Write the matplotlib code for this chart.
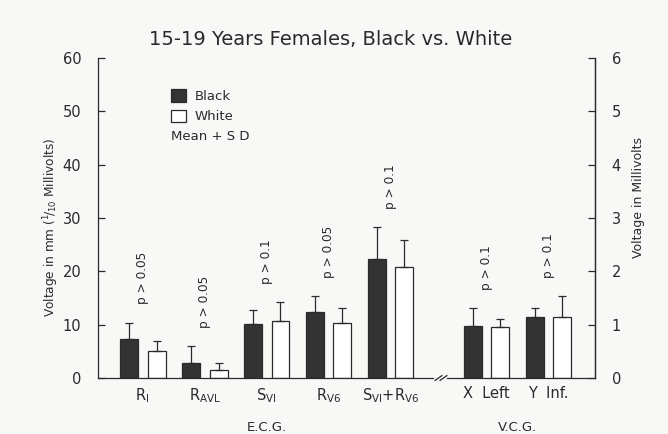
import numpy as np
import matplotlib.pyplot as plt
from matplotlib.patches import Patch
from matplotlib.transforms import blended_transform_factory

# --- data (mm, 1/10 mV) ---
labels = [r'R$_{\rm I}$', r'R$_{\rm AVL}$', r'S$_{\rm VI}$', r'R$_{\rm V6}$',
          r'S$_{\rm VI}$+R$_{\rm V6}$', 'X  Left', 'Y  Inf.']
black_mean = [7.3, 2.8, 10.1, 12.4, 22.4, 9.8, 11.5]
black_sd = [3.1, 3.2, 2.7, 3.0, 5.9, 3.3, 1.7]
white_mean = [5.1, 1.5, 10.7, 10.3, 20.9, 9.5, 11.5]
white_sd = [1.9, 1.3, 3.6, 2.8, 4.9, 1.6, 3.8]
p_text = ['p > 0.05', 'p > 0.05', 'p > 0.1', 'p > 0.05', 'p > 0.1', 'p > 0.1', 'p > 0.1']

BG = '#f8f8f6'
INK = '#2a2a2a'

# group positions (gap between E.C.G. and V.C.G. blocks)
pos = np.array([0, 1, 2, 3, 4, 5.55, 6.55])
w = 0.29
off = 0.225

fig = plt.figure(figsize=(6.68, 4.34), dpi=100, facecolor=BG)
ax = fig.add_axes([0.1467, 0.129, 0.744, 0.737], facecolor=BG)

err_kw = dict(ecolor=INK, elinewidth=0.9, capsize=3, capthick=0.9)
ax.bar(pos - off, black_mean, w, color='#333333', edgecolor=INK, linewidth=0.9,
       yerr=[np.zeros(len(pos)), black_sd], error_kw=err_kw, zorder=2)
ax.bar(pos + off, white_mean, w, color='white', edgecolor=INK, linewidth=0.9,
       yerr=[np.zeros(len(pos)), white_sd], error_kw=err_kw, zorder=2)

# p-value notes above each pair
tops = np.maximum(np.array(black_mean) + black_sd, np.array(white_mean) + white_sd)
for x, t, s in zip(pos, tops, p_text):
    ax.text(x, t + 3.4, s, rotation=90, ha='center', va='bottom', fontsize=8.7, color=INK)

ax.set_xlim(-0.72, 7.3)
ax.set_ylim(0, 60)
ax.set_yticks(range(0, 61, 10))
ax.set_xticks(pos)
ax.set_xticklabels(labels, fontsize=10.5, color=INK)
ax.tick_params(axis='x', length=0, pad=6)
ax.tick_params(axis='y', direction='in', length=5, width=0.9, pad=12, labelsize=10.5,
               colors=INK)

for side in ['top', 'bottom']:
    ax.spines[side].set_visible(False)
for side in ['left', 'right']:
    ax.spines[side].set_color(INK)
    ax.spines[side].set_linewidth(0.9)

# broken bottom axis
ax.plot([-0.72, 4.69], [0, 0], color=INK, lw=0.9, clip_on=False, zorder=3)
ax.plot([4.91, 7.3], [0, 0], color=INK, lw=0.9, clip_on=False, zorder=3)
for dx in (4.72, 4.8):
    ax.plot([dx, dx + 0.11], [-0.45, 0.45], color=INK, lw=0.9, clip_on=False, zorder=3)

ax2 = ax.twinx()
ax2.set_ylim(0, 6)
ax2.set_yticks(range(0, 7))
ax2.tick_params(axis='y', direction='in', length=5, width=0.9, pad=12, labelsize=10.5,
                colors=INK)
for side in ['top', 'bottom', 'left']:
    ax2.spines[side].set_visible(False)
ax2.spines['right'].set_color(INK)
ax2.spines['right'].set_linewidth(0.9)

ax.set_ylabel(r'Voltage in mm ($^{1}\!/_{10}$ Millivolts)', fontsize=8.7, color=INK)
ax.yaxis.set_label_coords(-0.075, 0.47)
ax2.set_ylabel('Voltage in Millivolts', fontsize=9, color=INK)
ax2.yaxis.set_label_coords(1.075, 0.565)

# legend
handles = [Patch(facecolor='#333333', edgecolor=INK, linewidth=0.9, label='Black'),
           Patch(facecolor='white', edgecolor=INK, linewidth=0.9, label='White')]
ax.legend(handles=handles, loc='upper left', bbox_to_anchor=(0.123, 0.94), frameon=False,
          fontsize=9.5, handlelength=1.1, handleheight=1.1, handletextpad=0.7,
          labelspacing=0.5, labelcolor=INK)
ax.text(0.146, 0.756, 'Mean + S D', transform=ax.transAxes, fontsize=9.5,
        color=INK, va='center')

# block labels
tr = blended_transform_factory(ax.transData, ax.transAxes)
ax.text(2, -0.155, 'E.C.G.', transform=tr, ha='center', va='center', fontsize=9.5, color=INK)
ax.text(6.05, -0.155, 'V.C.G.', transform=tr, ha='center', va='center', fontsize=9.5, color=INK)

fig.text(0.495, 0.908, '15-19 Years Females, Black vs. White', ha='center', va='center',
         fontsize=14, color=INK)

fig.savefig('out.png', dpi=100, facecolor=BG)
